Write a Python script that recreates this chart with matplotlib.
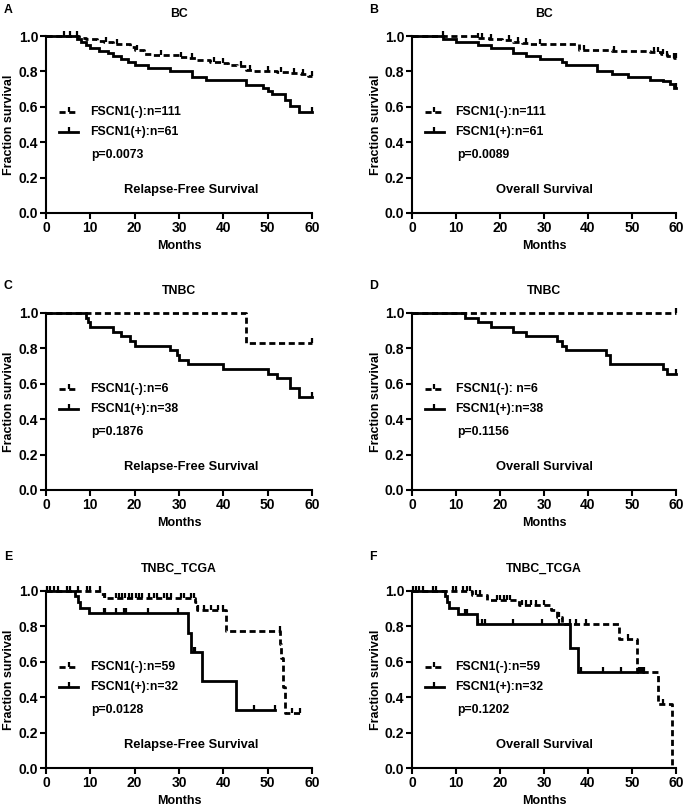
import numpy as np
import matplotlib
matplotlib.use("Agg")
import matplotlib.pyplot as plt

plt.rcParams["font.family"] = ["Liberation Sans", "DejaVu Sans"]
plt.rcParams["font.weight"] = "bold"
FS = 8.8

# --- A: BC, relapse-free ---
A_NEG_T = [7.5, 9, 11.5, 13, 15, 19, 20, 22, 24, 30, 32, 34, 37, 39.5, 41, 43, 45, 47, 52, 55, 57.5, 59]
A_NEG_S = [0.991, 0.982, 0.973, 0.964, 0.955, 0.937, 0.919, 0.9, 0.891, 0.882, 0.873, 0.864,
           0.855, 0.846, 0.837, 0.828, 0.81, 0.801, 0.795, 0.789, 0.783, 0.775]
A_NEG_C = [4, 5.5, 7, 13.5, 16, 20.5, 26, 30.5, 33, 38, 40, 44, 46, 50, 53, 56, 58, 60]
A_POS_T = [7, 8, 9, 10, 12, 14, 15, 17, 18.5, 20, 23, 28, 33, 36, 45, 49, 50, 51, 54, 55, 57]
A_POS_S = [0.984, 0.967, 0.951, 0.934, 0.918, 0.902, 0.885, 0.869, 0.852, 0.836, 0.82, 0.803,
           0.77, 0.754, 0.721, 0.705, 0.688, 0.672, 0.639, 0.607, 0.568]
A_POS_C = [60]

# --- B: BC, overall ---
B_NEG_T = [15, 17.5, 20.5, 23, 25, 26.5, 38, 45.5, 54, 56.5, 58, 59.5]
B_NEG_S = [0.991, 0.982, 0.976, 0.967, 0.958, 0.952, 0.921, 0.915, 0.909, 0.899, 0.887, 0.875]
B_NEG_C = [7, 15, 16, 18, 22, 24, 26, 29, 39, 46, 55, 56, 57, 58, 59.5, 60]
B_POS_T = [7, 10, 15, 18, 23, 26, 29, 34, 35, 42, 45.5, 49, 54, 57, 58.7, 59.5]
B_POS_S = [0.984, 0.967, 0.951, 0.934, 0.902, 0.885, 0.869, 0.852, 0.836, 0.803, 0.787, 0.77,
           0.754, 0.744, 0.73, 0.708]
B_POS_C = [60]

# --- C: TNBC, relapse-free ---
C_NEG_T = [45]
C_NEG_S = [0.833]
C_NEG_C = [60]
C_POS_T = [9, 9.5, 10, 15, 17, 19, 20, 28, 29.5, 30, 32, 40, 50, 52, 55, 57]
C_POS_S = [0.974, 0.947, 0.921, 0.895, 0.868, 0.842, 0.816, 0.789, 0.763, 0.737, 0.711, 0.684,
           0.658, 0.632, 0.579, 0.526]
C_POS_C = [60]

# --- D: TNBC, overall ---
D_NEG_T = []
D_NEG_S = []
D_NEG_C = [60]
D_POS_T = [12, 15, 18, 23, 26, 33, 34, 35, 44, 45, 57, 58]
D_POS_S = [0.974, 0.947, 0.921, 0.895, 0.868, 0.842, 0.816, 0.789, 0.763, 0.711, 0.684, 0.658]
D_POS_C = [60]

# --- E: TNBC_TCGA, relapse-free ---
E_NEG_T = [12.5, 13, 33.5, 34, 40.7, 52.8, 53, 53.5, 54]
E_NEG_S = [0.983, 0.96, 0.94, 0.89, 0.776, 0.70, 0.62, 0.46, 0.31]
E_NEG_C = [0.2, 0.9, 1.7, 2.8, 4.7, 5.4, 7.3, 9.2, 9.9, 12.2, 13.4, 15.7, 16.4, 17.2, 17.9,
           18.7, 19.4, 20.2, 20.9, 21.7, 23.2, 24.4, 25.1, 26.6, 27.4, 28.1, 30.4, 31.2, 32.7,
           33.3, 34.2, 35.7, 37.2, 38.7, 39.9, 52.7, 55.4, 57.3]
E_POS_T = [6.6, 7.3, 7.7, 9.6, 9.8, 32, 32.6, 35.3, 42.9]
E_POS_S = [0.969, 0.938, 0.906, 0.89, 0.874, 0.764, 0.655, 0.491, 0.327]
E_POS_C = [13, 13.4, 15.7, 17.5, 18.1, 23.1, 29.7, 33.3, 33.7, 47, 51.6]

# --- F: TNBC_TCGA, overall ---
F_NEG_T = [13.6, 17, 24.3, 31.5, 33, 34.1, 47.1, 51.2, 55.8, 59.1]
F_NEG_S = [0.98, 0.95, 0.92, 0.89, 0.855, 0.816, 0.727, 0.545, 0.364, 0.0]
F_NEG_C = [0.2, 1.0, 1.7, 2.5, 4.8, 5.5, 9.4, 10.1, 11.7, 12.4, 13.2, 14.5, 15.5, 19.3, 20.0,
           20.8, 21.5, 22.3, 25, 26, 27, 28.2, 30, 33.4, 36, 37.2, 39.5, 49, 51.6, 52.1, 52.7, 57]
F_POS_T = [7.5, 8, 8.3, 10.5, 14.7, 35.8, 37.8]
F_POS_S = [0.969, 0.938, 0.906, 0.872, 0.814, 0.678, 0.543]
F_POS_C = [12, 12.4, 15, 15.8, 16.5, 23, 29.5, 33.4, 38.3, 43.3, 47.4, 51.6, 52.4]

TITLES = ["BC", "BC", "TNBC", "TNBC", "TNBC_TCGA", "TNBC_TCGA"]
LETTERS = ["A", "B", "C", "D", "E", "F"]
KINDS = ["Relapse-Free Survival", "Overall Survival"] * 3
NEG_LABELS = ["FSCN1(-):n=111", "FSCN1(-):n=111", "FSCN1(-):n=6", "FSCN1(-): n=6",
              "FSCN1(-):n=59", "FSCN1(-):n=59"]
POS_LABELS = ["FSCN1(+):n=61", "FSCN1(+):n=61", "FSCN1(+):n=38", "FSCN1(+):n=38",
              "FSCN1(+):n=32", "FSCN1(+):n=32"]
PVALS = ["p=0.0073", "p=0.0089", "p=0.1876", "p=0.1156", "p=0.0128", "p=0.1202"]

CURVES = [
    ((A_NEG_T, A_NEG_S, A_NEG_C), (A_POS_T, A_POS_S, A_POS_C)),
    ((B_NEG_T, B_NEG_S, B_NEG_C), (B_POS_T, B_POS_S, B_POS_C)),
    ((C_NEG_T, C_NEG_S, C_NEG_C), (C_POS_T, C_POS_S, C_POS_C)),
    ((D_NEG_T, D_NEG_S, D_NEG_C), (D_POS_T, D_POS_S, D_POS_C)),
    ((E_NEG_T, E_NEG_S, E_NEG_C), (E_POS_T, E_POS_S, E_POS_C)),
    ((F_NEG_T, F_NEG_S, F_NEG_C), (F_POS_T, F_POS_S, F_POS_C)),
]

W, H = 685, 806
COL_LEFT = [46, 412]
COL_W = [266, 264]
ROW_TOP = [36, 313, 591]
ROW_BOT = [213, 490, 768]

DASH = (0, (2.2, 1.3))
LW = 2.0
MS = 3.5


def step_xy(times, surv, cens):
    end = max(list(times) + list(cens))
    x = [0] + list(times) + [end]
    y = [1.0] + list(surv) + [surv[-1] if surv else 1.0]
    return x, y


def censor_y(times, surv, cens):
    idx = np.searchsorted(np.asarray(times, float), cens, side="right")
    full = np.r_[1.0, surv]
    return full[idx]


def draw_curve(ax, times, surv, cens, ls):
    x, y = step_xy(times, surv, cens)
    ax.step(x, y, where="post", color="black", lw=LW, ls=ls, clip_on=False,
            solid_joinstyle="miter")
    ax.plot(cens, censor_y(times, surv, cens), ls="none", marker=2, ms=MS,
            mew=1.6, color="black", clip_on=False)


fig = plt.figure(figsize=(W / 100, H / 100), dpi=100)

for i in range(6):
    r, c = divmod(i, 2)
    l, w = COL_LEFT[c], COL_W[c]
    t, b = ROW_TOP[r], ROW_BOT[r]
    ax = fig.add_axes([l / W, 1 - b / H, w / W, (b - t) / H])

    neg, pos = CURVES[i]
    draw_curve(ax, *neg, DASH)
    draw_curve(ax, *pos, "-")

    ax.set_xlim(0, 60)
    ax.set_ylim(0, 1.0)
    ax.set_xticks(range(0, 61, 10))
    ax.set_yticks(np.arange(0, 1.01, 0.2))
    ax.set_yticklabels([f"{v:.1f}" for v in np.arange(0, 1.01, 0.2)])
    for s in ["top", "right"]:
        ax.spines[s].set_visible(False)
    for s in ["left", "bottom"]:
        ax.spines[s].set_linewidth(1.5)
    ax.tick_params(direction="out", length=4, width=1.5, pad=1.5, labelsize=10)

    ax.set_xlabel("Months", fontsize=9, fontweight="bold")
    ax.xaxis.set_label_coords(0.5, -0.15)
    ax.set_ylabel("Fraction survival", fontsize=9, fontweight="bold")
    ax.yaxis.set_label_coords(-0.115, 0.5)

    ax.text(0.5, 1.125, TITLES[i], transform=ax.transAxes, ha="center", va="center",
            fontsize=FS, fontweight="bold")
    fig.text((4 if c == 0 else 369) / W, 1 - (10 if r == 0 else (286 if r == 1 else 557)) / H,
             LETTERS[i], ha="left", va="center", fontsize=FS, fontweight="bold")

    # legend
    for yy, ls, lab in [(0.57, DASH, NEG_LABELS[i]), (0.455, "-", POS_LABELS[i])]:
        ax.plot([0.05, 0.12], [yy, yy], transform=ax.transAxes, color="black", lw=LW,
                ls=ls, clip_on=False)
        ax.plot([0.085], [yy], transform=ax.transAxes, marker=2, ms=MS, mew=1.6,
                color="black", clip_on=False)
        ax.text(0.165, yy, lab, transform=ax.transAxes, ha="left", va="center",
                fontsize=FS, fontweight="bold")
    ax.text(0.17, 0.325, PVALS[i], transform=ax.transAxes, ha="left", va="center",
            fontsize=FS, fontweight="bold")
    ax.text(0.545 if c == 0 else 0.5, 0.13, KINDS[i], transform=ax.transAxes,
            ha="center", va="center", fontsize=9.3, fontweight="bold")

fig.savefig("out.png", dpi=100)
